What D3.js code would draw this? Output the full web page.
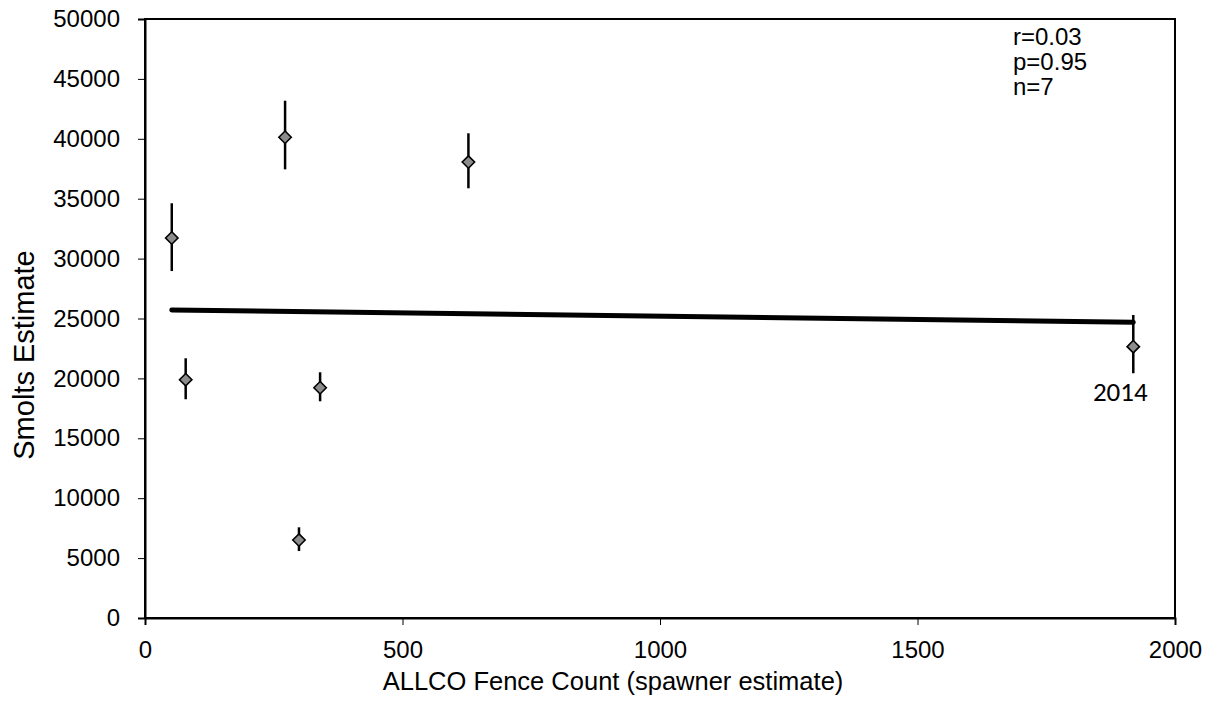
<!DOCTYPE html>
<html>
<head>
<meta charset="utf-8">
<script src="https://cdn.jsdelivr.net/npm/d3@7"></script>
<style>
  html, body { margin: 0; padding: 0; background: #fff; }
  svg { display: block; }
</style>
</head>
<body>
<svg id="chart" width="1219" height="714"></svg>
<script>
// Spawner counts at the fence vs. smolt estimates (with confidence bounds)
const fenceCount = [52, 79, 272, 299, 340, 628, 1919];
const smolts     = [31720, 19890, 40130, 6510, 19220, 38060, 22650];
const smoltsHigh = [34620, 21680, 43180, 7570, 20510, 40460, 25290];
const smoltsLow  = [28960, 18260, 37450, 5590, 18090, 35870, 20430];
const pointLabels = ["", "", "", "", "", "", "2014"];

const xTicks = [0, 500, 1000, 1500, 2000];
const yTicks = [0, 5000, 10000, 15000, 20000, 25000, 30000, 35000, 40000, 45000, 50000];
const statsText = ["r=0.03", "p=0.95", "n=7"];

const svg = d3.select("#chart");
const plotLeft = 145, plotRight = 1175, plotTop = 19, plotBottom = 618;

const x = d3.scaleLinear().domain([0, 2000]).range([plotLeft, plotRight]);
const y = d3.scaleLinear().domain([0, 50000]).range([plotBottom, plotTop]);

const font = "'Liberation Sans', Arial, sans-serif";

// plot frame
svg.append("rect")
  .attr("x", plotLeft).attr("y", plotTop)
  .attr("width", plotRight - plotLeft).attr("height", plotBottom - plotTop)
  .attr("fill", "none").attr("stroke", "#000").attr("stroke-width", 2);

// y axis
const yAxis = svg.append("g")
  .attr("transform", `translate(${plotLeft},0)`)
  .call(d3.axisLeft(y).tickValues(yTicks).tickSize(7).tickPadding(18).tickFormat(d3.format("d")));
yAxis.select(".domain").attr("stroke", "#000").attr("stroke-width", 2);
yAxis.selectAll(".tick line").attr("stroke", "#000").attr("stroke-width", 1);
yAxis.selectAll(".tick text").attr("font-family", font).attr("font-size", 24).attr("fill", "#000");

// x axis
const xAxis = svg.append("g")
  .attr("transform", `translate(0,${plotBottom})`)
  .call(d3.axisBottom(x).tickValues(xTicks).tickSize(7).tickPadding(16).tickFormat(d3.format("d")));
xAxis.select(".domain").attr("stroke", "#000").attr("stroke-width", 2);
xAxis.selectAll(".tick line").attr("stroke", "#000").attr("stroke-width", 1);
xAxis.selectAll(".tick text").attr("font-family", font).attr("font-size", 24).attr("fill", "#000");

// axis titles
svg.append("text")
  .attr("x", 613).attr("y", 690)
  .attr("text-anchor", "middle")
  .attr("font-family", font).attr("font-size", 25.5)
  .text("ALLCO Fence Count (spawner estimate)");

svg.append("text")
  .attr("transform", "translate(34,355) rotate(-90)")
  .attr("text-anchor", "middle")
  .attr("font-family", font).attr("font-size", 29)
  .text("Smolts Estimate");

// least-squares trend line over the observed range
const n = fenceCount.length;
const mx = d3.mean(fenceCount), my = d3.mean(smolts);
let sxy = 0, sxx = 0;
for (let i = 0; i < n; i++) {
  sxy += (fenceCount[i] - mx) * (smolts[i] - my);
  sxx += (fenceCount[i] - mx) ** 2;
}
const slope = sxy / sxx, intercept = my - slope * mx;
const [xmin, xmax] = d3.extent(fenceCount);
svg.append("line")
  .attr("x1", x(xmin)).attr("y1", y(intercept + slope * xmin))
  .attr("x2", x(xmax)).attr("y2", y(intercept + slope * xmax))
  .attr("stroke", "#000").attr("stroke-width", 5).attr("stroke-linecap", "round");

// error bars
svg.append("g").selectAll("line")
  .data(d3.range(n))
  .join("line")
  .attr("x1", i => x(fenceCount[i])).attr("x2", i => x(fenceCount[i]))
  .attr("y1", i => y(smoltsLow[i])).attr("y2", i => y(smoltsHigh[i]))
  .attr("stroke", "#000").attr("stroke-width", 2.5);

// diamond markers
const diamond = d3.symbol().type(d3.symbolDiamond2).size(98);
svg.append("g").selectAll("path")
  .data(d3.range(n))
  .join("path")
  .attr("transform", i => `translate(${x(fenceCount[i])},${y(smolts[i])})`)
  .attr("d", diamond)
  .attr("fill", "#8c8c8c").attr("stroke", "#000").attr("stroke-width", 1.6);

// point labels
svg.append("g").selectAll("text")
  .data(d3.range(n).filter(i => pointLabels[i]))
  .join("text")
  .attr("x", i => x(fenceCount[i]) - 13)
  .attr("y", i => y(smolts[i]) + 54)
  .attr("text-anchor", "middle")
  .attr("font-family", "Carlito, Lato, 'Open Sans', sans-serif").attr("font-size", 27)
  .text(i => pointLabels[i]);

// correlation summary
svg.append("g").selectAll("text")
  .data(statsText)
  .join("text")
  .attr("x", 1013).attr("y", (d, i) => 45 + i * 25)
  .attr("font-family", font).attr("font-size", 24)
  .text(d => d);
</script>
</body>
</html>
